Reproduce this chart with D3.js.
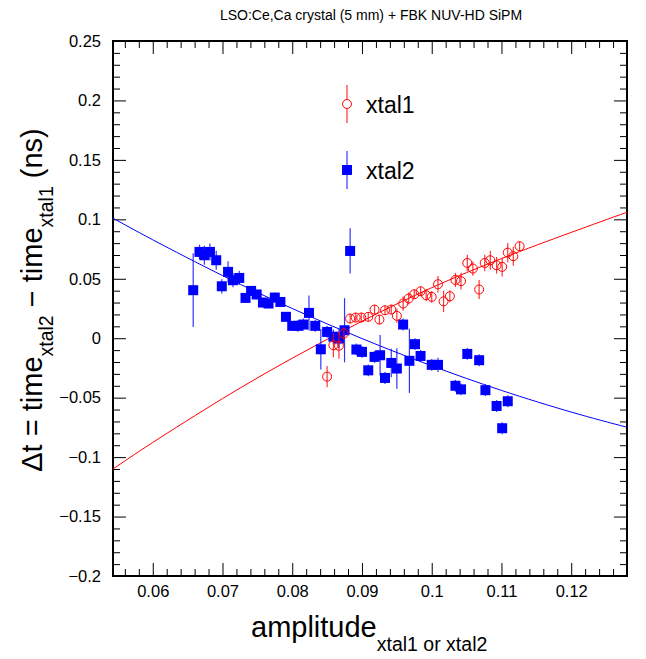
<!DOCTYPE html>
<html>
<head>
<meta charset="utf-8">
<script src="https://cdn.jsdelivr.net/npm/d3@7"></script>
<style>
body { margin: 0; background: #fff; }
text { font-family: "Liberation Sans", Arial, sans-serif; }
</style>
</head>
<body>
<svg id="chart" width="646" height="659"></svg>
<script>
// xtal1 points: amplitude, delta t, error
var xtal1_x = [0.0850, 0.0859, 0.0867, 0.0874, 0.0883, 0.0891, 0.0899, 0.0909, 0.0918, 0.0925,
    0.0933, 0.0942, 0.0950, 0.0959, 0.0967, 0.0975, 0.0984, 0.0992, 0.1000, 0.1009,
    0.1017, 0.1026, 0.1034, 0.1042, 0.1051, 0.1059, 0.1068, 0.1076, 0.1084, 0.1093,
    0.1101, 0.1109, 0.1117, 0.1126];
var xtal1_y = [-0.0323, -0.0059, -0.0063, 0.0040, 0.0166, 0.0174, 0.0174, 0.0180, 0.0241, 0.0157,
    0.0235, 0.0241, 0.0188, 0.0292, 0.0334, 0.0370, 0.0395, 0.0362, 0.0348, 0.0454,
    0.0310, 0.0353, 0.0490, 0.0480, 0.0633, 0.0586, 0.0410, 0.0633, 0.0656, 0.0614,
    0.0600, 0.0720, 0.0690, 0.0774];
var xtal1_err = [0.009, 0.010, 0.011, 0.005, 0.004, 0.004, 0.004, 0.004, 0.004, 0.004,
    0.004, 0.004, 0.006, 0.006, 0.005, 0.004, 0.004, 0.005, 0.005, 0.007,
    0.009, 0.005, 0.006, 0.007, 0.007, 0.006, 0.008, 0.007, 0.008, 0.007,
    0.008, 0.008, 0.008, 0.004];
// xtal2 points
var xtal2_x = [0.0658, 0.0667, 0.0674, 0.0682, 0.0691, 0.0699, 0.0708, 0.0715, 0.0724, 0.0733,
    0.0741, 0.0749, 0.0758, 0.0766, 0.0775, 0.0783, 0.0791, 0.0800, 0.0808, 0.0816,
    0.0824, 0.0833, 0.0841, 0.0850, 0.0859, 0.0867, 0.0875, 0.0883, 0.0892, 0.0900,
    0.0909, 0.0918, 0.0926, 0.0933, 0.0942, 0.0950, 0.0959, 0.0968, 0.0976, 0.0984,
    0.1000, 0.1009, 0.1034, 0.1042, 0.1051, 0.1068, 0.1077, 0.1093, 0.1101, 0.1109];
var xtal2_y = [0.0404, 0.0726, 0.0698, 0.0726, 0.0656, 0.0437, 0.0558, 0.0488, 0.0507, 0.0339,
    0.0398, 0.0368, 0.0300, 0.0292, 0.0342, 0.0305, 0.0180, 0.0104, 0.0104, 0.0115,
    0.0213, 0.0104, -0.0093, 0.0053, 0.0013, -0.0003, 0.0067, 0.0734, -0.0095, -0.0115,
    -0.0270, -0.0157, -0.0143, -0.0334, -0.0208, -0.0255, 0.0115, -0.0190, -0.0050, -0.0149,
    -0.0224, -0.0224, -0.0400, -0.0430, -0.0132, -0.0185, -0.0437, -0.0570, -0.0757, -0.0530];
var xtal2_err = [0.031, 0.006, 0.008, 0.007, 0.008, 0.006, 0.009, 0.006, 0.006, 0.004,
    0.004, 0.004, 0.004, 0.004, 0.004, 0.004, 0.004, 0.004, 0.005, 0.005,
    0.0147, 0.005, 0.017, 0.005, 0.006, 0.008, 0.027, 0.019, 0.005, 0.005,
    0.005, 0.005, 0.017, 0.005, 0.012, 0.017, 0.005, 0.027, 0.005, 0.005,
    0.005, 0.006, 0.005, 0.005, 0.005, 0.005, 0.005, 0.005, 0.005, 0.005];
// fit curves, points
var fit1_x = [0.0543, 0.060, 0.070, 0.080, 0.090, 0.100, 0.110, 0.120, 0.128];
var fit1_y = [-0.110, -0.0877, -0.0508, -0.0168, 0.0143, 0.0425, 0.0670, 0.0890, 0.106];
var fit2_x = [0.0543, 0.060, 0.070, 0.080, 0.090, 0.100, 0.110, 0.120, 0.128];
var fit2_y = [0.101, 0.0828, 0.0527, 0.0250, -0.0003, -0.0232, -0.0439, -0.0621, -0.0749];
var series_names = ['xtal1', 'xtal2'];
var x_ticks = [0.06, 0.07, 0.08, 0.09, 0.1, 0.11, 0.12];
var y_ticks = [-0.2, -0.15, -0.1, -0.05, 0, 0.05, 0.1, 0.15, 0.2, 0.25];
var title_text = 'LSO:Ce,Ca crystal (5 mm) + FBK NUV-HD SiPM';

var frame_l = 113, frame_r = 627, frame_t = 41, frame_b = 576;
var red = '#ff0000', blue = '#0000ff';
var svg = d3.select('#chart');

var x = d3.scaleLinear().domain([0.0543, 0.128]).range([frame_l, frame_r]);
var y = d3.scaleLinear().domain([-0.2, 0.25]).range([frame_b, frame_t]);

function fmt(v) {
    var s = String(+v.toFixed(3));
    return s.replace('-', '\u2212');
}

// minor ticks
var x_minor = d3.range(28, 64).map(function (i) { return +(i * 0.002).toFixed(3); })
    .filter(function (v) { return v > 0.0543 && v < 0.128 && x_ticks.indexOf(v) === -1; });
var y_minor = d3.range(-20, 26).map(function (i) { return +(i * 0.01).toFixed(2); })
    .filter(function (v) { return y_ticks.indexOf(v) === -1; });

function draw_axis(axis, tx, ty) {
    var g = svg.append('g').attr('transform', 'translate(' + tx + ',' + ty + ')').call(axis);
    g.select('.domain').remove();
    g.selectAll('line').attr('stroke', '#000').attr('stroke-width', 1);
    g.selectAll('text').attr('font-size', 16.5).attr('fill', '#000')
        .attr('font-family', '"Liberation Sans", Arial, sans-serif');
    return g;
}
var MAJ = 13, MIN = 7;
draw_axis(d3.axisBottom(x).tickValues(x_ticks).tickSize(-MAJ).tickPadding(9).tickFormat(fmt), 0, frame_b);
draw_axis(d3.axisBottom(x).tickValues(x_minor).tickSize(-MIN).tickFormat(''), 0, frame_b);
draw_axis(d3.axisTop(x).tickValues(x_ticks).tickSize(-MAJ).tickFormat(''), 0, frame_t);
draw_axis(d3.axisTop(x).tickValues(x_minor).tickSize(-MIN).tickFormat(''), 0, frame_t);
draw_axis(d3.axisLeft(y).tickValues(y_ticks).tickSize(-MAJ).tickPadding(12).tickFormat(fmt), frame_l, 0);
draw_axis(d3.axisLeft(y).tickValues(y_minor).tickSize(-MIN).tickFormat(''), frame_l, 0);
draw_axis(d3.axisRight(y).tickValues(y_ticks).tickSize(-MAJ).tickFormat(''), frame_r, 0);
draw_axis(d3.axisRight(y).tickValues(y_minor).tickSize(-MIN).tickFormat(''), frame_r, 0);

// frame
svg.append('rect').attr('x', frame_l).attr('y', frame_t)
    .attr('width', frame_r - frame_l).attr('height', frame_b - frame_t)
    .attr('fill', 'none').attr('stroke', '#000').attr('stroke-width', 2);

svg.append('clipPath').attr('id', 'clip').append('rect')
    .attr('x', frame_l).attr('y', frame_t).attr('width', frame_r - frame_l).attr('height', frame_b - frame_t);
var plot = svg.append('g').attr('clip-path', 'url(#clip)');

// fit lines
var line = d3.line().curve(d3.curveNatural)
    .x(function (d) { return x(d[0]); }).y(function (d) { return y(d[1]); });
plot.append('path').datum(d3.zip(fit1_x, fit1_y)).attr('d', line)
    .attr('fill', 'none').attr('stroke', red).attr('stroke-width', 1);
plot.append('path').datum(d3.zip(fit2_x, fit2_y)).attr('d', line)
    .attr('fill', 'none').attr('stroke', blue).attr('stroke-width', 1);

// xtal2 squares
var pts2 = d3.zip(xtal2_x, xtal2_y, xtal2_err);
plot.selectAll('.e2').data(pts2).enter().append('line')
    .attr('x1', function (d) { return x(d[0]); }).attr('x2', function (d) { return x(d[0]); })
    .attr('y1', function (d) { return y(d[1] - d[2]); }).attr('y2', function (d) { return y(d[1] + d[2]); })
    .attr('stroke', blue).attr('stroke-opacity', 0.8).attr('stroke-width', 1.2);
plot.selectAll('.m2').data(pts2).enter().append('rect')
    .attr('x', function (d) { return x(d[0]) - 5; }).attr('y', function (d) { return y(d[1]) - 5; })
    .attr('width', 10).attr('height', 10).attr('fill', blue);

// xtal1 circles
var pts1 = d3.zip(xtal1_x, xtal1_y, xtal1_err);
plot.selectAll('.e1').data(pts1).enter().append('line')
    .attr('x1', function (d) { return x(d[0]); }).attr('x2', function (d) { return x(d[0]); })
    .attr('y1', function (d) { return y(d[1] - d[2]); }).attr('y2', function (d) { return y(d[1] + d[2]); })
    .attr('stroke', red).attr('stroke-opacity', 0.8).attr('stroke-width', 1.2);
plot.selectAll('.m1').data(pts1).enter().append('circle')
    .attr('cx', function (d) { return x(d[0]); }).attr('cy', function (d) { return y(d[1]); })
    .attr('r', 4.5).attr('fill', 'none').attr('stroke', red).attr('stroke-width', 1);

// legend
var leg = svg.append('g');
series_names.forEach(function (name, i) {
    var cy = i === 0 ? 104 : 170;
    var col = i === 0 ? red : blue;
    leg.append('line').attr('x1', 347).attr('x2', 347).attr('y1', cy - 19).attr('y2', cy + 19)
        .attr('stroke', col).attr('stroke-opacity', 0.8).attr('stroke-width', 1.2);
    if (i === 0) {
        leg.append('circle').attr('cx', 347).attr('cy', cy).attr('r', 4.5)
            .attr('fill', '#fff').attr('stroke', col).attr('stroke-width', 1);
    } else {
        leg.append('rect').attr('x', 342).attr('y', cy - 5).attr('width', 10).attr('height', 10).attr('fill', col);
    }
    leg.append('text').attr('x', 366).attr('y', cy + 8.5).attr('font-size', 23).text(name);
});

// title
svg.append('text').attr('x', 371).attr('y', 20).attr('text-anchor', 'middle')
    .attr('font-size', 14).text(title_text);

// x axis title
var xt = svg.append('text').attr('x', 251).attr('y', 637).attr('font-size', 29);
xt.append('tspan').text('amplitude');
xt.append('tspan').attr('font-size', 19.5).attr('dy', 14).text('xtal1 or xtal2');

// y axis title
var yt = svg.append('text').attr('transform', 'translate(42,300) rotate(-90)')
    .attr('text-anchor', 'middle').attr('font-size', 29);
yt.append('tspan').text('\u0394t = time');
yt.append('tspan').attr('font-size', 19.5).attr('dy', 11).text('xtal2');
yt.append('tspan').attr('dy', -11).text(' \u2212 time');
yt.append('tspan').attr('font-size', 19.5).attr('dy', 11).text('xtal1');
yt.append('tspan').attr('dy', -11).text(' (ns)');
</script>
</body>
</html>
